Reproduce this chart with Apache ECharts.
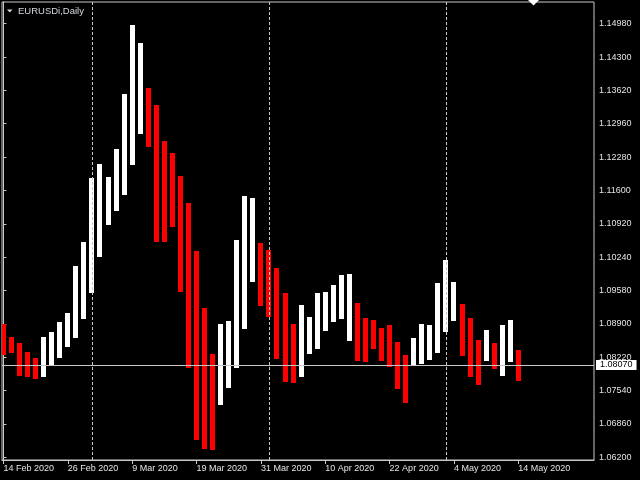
<!DOCTYPE html>
<html>
<head>
<meta charset="utf-8">
<script src="https://cdn.jsdelivr.net/npm/echarts@6/dist/echarts.min.js"></script>
<style>
  html, body { margin: 0; padding: 0; background: #000; }
  #chart { width: 640px; height: 480px; }
</style>
</head>
<body>
<div id="chart"></div>
<script>
// ---------------- DATA ----------------
const symbolTitle = 'EURUSDi,Daily';
const dates = [
  '14 Feb 2020','17 Feb 2020','18 Feb 2020','19 Feb 2020','20 Feb 2020','21 Feb 2020','24 Feb 2020','25 Feb 2020',
  '26 Feb 2020','27 Feb 2020','28 Feb 2020','2 Mar 2020','3 Mar 2020','4 Mar 2020','5 Mar 2020','6 Mar 2020',
  '9 Mar 2020','10 Mar 2020','11 Mar 2020','12 Mar 2020','13 Mar 2020','16 Mar 2020','17 Mar 2020','18 Mar 2020',
  '19 Mar 2020','20 Mar 2020','23 Mar 2020','24 Mar 2020','25 Mar 2020','26 Mar 2020','27 Mar 2020','30 Mar 2020',
  '31 Mar 2020','1 Apr 2020','2 Apr 2020','3 Apr 2020','6 Apr 2020','7 Apr 2020','8 Apr 2020','9 Apr 2020',
  '10 Apr 2020','13 Apr 2020','14 Apr 2020','15 Apr 2020','16 Apr 2020','17 Apr 2020','20 Apr 2020','21 Apr 2020',
  '22 Apr 2020','23 Apr 2020','24 Apr 2020','27 Apr 2020','28 Apr 2020','29 Apr 2020','30 Apr 2020','1 May 2020',
  '4 May 2020','5 May 2020','6 May 2020','7 May 2020','8 May 2020','11 May 2020','12 May 2020','13 May 2020',
  '14 May 2020'
];
const opens = [
  1.0890, 1.0864, 1.0852, 1.0834, 1.0822, 1.0782, 1.0805, 1.0822,
  1.0843, 1.0861, 1.0901, 1.0953, 1.1026, 1.1090, 1.1119, 1.1151,
  1.1212, 1.1275, 1.1368, 1.1333, 1.1261, 1.1236, 1.1190, 1.1135,
  1.1038, 1.0922, 1.0829, 1.0725, 1.0761, 1.0801, 1.0880, 1.0974,
  1.1054, 1.1040, 1.1003, 1.0953, 1.0890, 1.0783, 1.0830, 1.0839,
  1.0876, 1.0894, 1.0901, 1.0856, 1.0932, 1.0902, 1.0898, 1.0881,
  1.0888, 1.0853, 1.0827, 1.0806, 1.0809, 1.0816, 1.0831, 1.0874,
  1.0896, 1.0930, 1.0902, 1.0858, 1.0815, 1.0851, 1.0785, 1.0812,
  1.0837
];
const closes = [
  1.0827, 1.0831, 1.0785, 1.0783, 1.0779, 1.0864, 1.0874, 1.0893,
  1.0912, 1.1008, 1.1055, 1.1186, 1.1214, 1.1188, 1.1244, 1.1356,
  1.1495, 1.1459, 1.1249, 1.1055, 1.1055, 1.1087, 1.0955, 1.0801,
  1.0654, 1.0637, 1.0635, 1.0890, 1.0896, 1.1059, 1.1150, 1.1145,
  1.0927, 1.0905, 1.0819, 1.0773, 1.0770, 1.0928, 1.0905, 1.0953,
  1.0955, 1.0969, 1.0989, 1.0991, 1.0815, 1.0812, 1.0839, 1.0815,
  1.0803, 1.0758, 1.0729, 1.0862, 1.0890, 1.0888, 1.0973, 1.1020,
  1.0975, 1.0825, 1.0783, 1.0766, 1.0878, 1.0799, 1.0888, 1.0898,
  1.0775
];
const currentPrice = 1.08070;
const yLabels = ['1.06200','1.06860','1.07540','1.08220','1.08900','1.09580','1.10240',
                 '1.10920','1.11600','1.12280','1.12960','1.13620','1.14300','1.14980'];
const xLabelEvery = 8;

// ---------------- LAYOUT / STYLE ----------------
const FONT = '"Liberation Sans", Arial, sans-serif';
const frameColor = '#c8c8c8';
const textColor = '#e4e4e4';
const upColor = '#ffffff';
const downColor = '#ff0000';
const yMin = 1.06145, yMax = 1.15419;    // visible price window
const xMin = -0.18, xMax = 73.406;        // visible bar window

// tick positions: evenly spread between the first and last price label
const yFirst = parseFloat(yLabels[0]), yLast = parseFloat(yLabels[yLabels.length - 1]);
const yTickVals = yLabels.map((_, i) => yFirst + i * (yLast - yFirst) / (yLabels.length - 1));
const xTickVals = dates.map((_, i) => i).filter(i => i % xLabelEvery === 0);
const monthStarts = dates.map((d, i) => i).filter(i => i > 0 &&
  dates[i].split(' ')[1] !== dates[i - 1].split(' ')[1]);

const barData = opens.map((o, i) => [i, o, closes[i]]);

const chart = echarts.init(document.getElementById('chart'), null, { renderer: 'canvas' });
chart.setOption({
  animation: false,
  backgroundColor: '#000',
  title: {
    text: symbolTitle, left: 18, top: 6, padding: 0,
    textStyle: { color: '#d4d8e0', fontSize: 9.5, fontWeight: 'normal', fontFamily: FONT }
  },
  graphic: [
    { type: 'polygon', shape: { points: [[7, 9.5], [12.5, 9.5], [9.75, 12.5]] }, style: { fill: '#d4d8e0' } },
    { type: 'polygon', shape: { points: [[528, 0], [539, 0], [533.5, 5.5]] }, style: { fill: '#ffffff' } }
  ],
  grid: { left: 2, right: 46, top: 2, bottom: 20, show: true, borderColor: frameColor, borderWidth: 1, backgroundColor: '#000' },
  xAxis: {
    type: 'value', min: xMin, max: xMax,
    axisLine: { show: true, lineStyle: { color: frameColor } },
    axisTick: { show: true, length: 4, customValues: xTickVals, lineStyle: { color: frameColor } },
    axisLabel: {
      customValues: xTickVals,
      formatter: v => dates[Math.round(v)] || '',
      align: 'left', margin: 4, color: textColor, fontSize: 9, fontFamily: FONT
    },
    splitLine: { show: false }
  },
  yAxis: {
    type: 'value', position: 'right', min: yMin, max: yMax,
    axisLine: { show: true, lineStyle: { color: frameColor } },
    axisTick: { show: true, length: 3, customValues: yTickVals, lineStyle: { color: frameColor } },
    axisLabel: {
      customValues: yTickVals,
      formatter: v => {
        let best = 0;
        yTickVals.forEach((t, i) => { if (Math.abs(t - v) < Math.abs(yTickVals[best] - v)) best = i; });
        return yLabels[best];
      },
      margin: 5, color: textColor, fontSize: 9, fontFamily: FONT
    },
    splitLine: { show: false }
  },
  series: [
    {
      type: 'line', data: [], z: 1, silent: true,
      markLine: {
        silent: true, symbol: 'none', animation: false, precision: 5,
        label: { show: false },
        lineStyle: { color: frameColor, type: [3, 2], width: 1 },
        data: monthStarts.map(i => ({ xAxis: i }))
      }
    },
    {
      type: 'custom', z: 2, clip: true,
      data: barData,
      encode: { x: 0, y: [1, 2] },
      renderItem: (params, api) => {
        const i = api.value(0), o = api.value(1), c = api.value(2);
        const p1 = api.coord([i, o]);
        const p2 = api.coord([i, c]);
        const x = Math.round(p1[0] - 2.5);
        const y1 = Math.round(Math.min(p1[1], p2[1]));
        const y2 = Math.round(Math.max(p1[1], p2[1]));
        return {
          type: 'rect',
          shape: { x: x, y: y1, width: 5, height: Math.max(1, y2 - y1) },
          style: { fill: c >= o ? upColor : downColor }
        };
      }
    },
    {
      type: 'line', data: [], z: 3, silent: true,
      markLine: {
        silent: true, symbol: 'none', animation: false, precision: 5,
        lineStyle: { color: frameColor, type: 'solid', width: 1 },
        label: {
          show: true, position: 'end', distance: 2,
          formatter: () => currentPrice.toFixed(5),
          backgroundColor: '#ffffff', color: '#000000',
          fontSize: 9, fontFamily: FONT, padding: [1, 4, 0, 4], lineHeight: 9
        },
        data: [{ yAxis: currentPrice }]
      }
    }
  ]
});
</script>
</body>
</html>
